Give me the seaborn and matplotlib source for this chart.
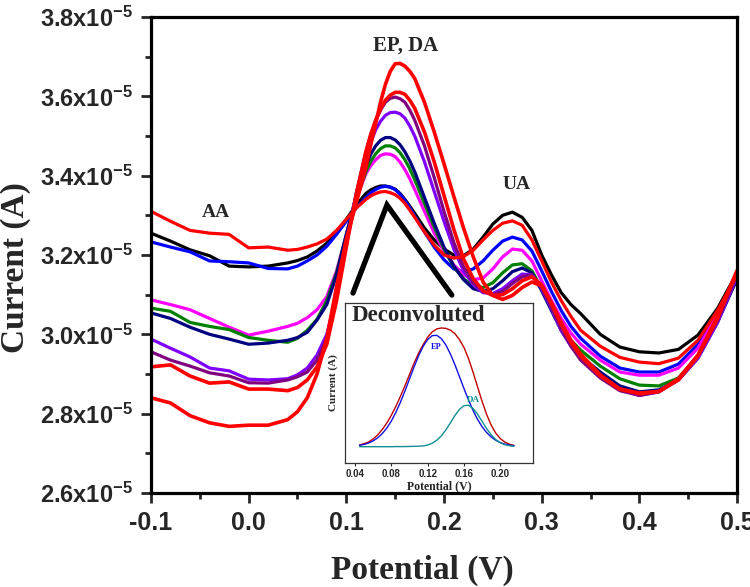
import numpy as np
import pandas as pd
import seaborn as sns
import matplotlib.pyplot as plt
from matplotlib.ticker import MultipleLocator, FuncFormatter

sns.set_style("ticks")
plt.rcParams['font.family'] = ['Liberation Sans', 'DejaVu Sans']
plt.rcParams['mathtext.fontset'] = 'custom'
plt.rcParams['mathtext.rm'] = 'Liberation Sans:bold'
plt.rcParams['mathtext.bf'] = 'Liberation Sans:bold'
plt.rcParams['mathtext.it'] = 'Liberation Sans:bold'
plt.rcParams['mathtext.default'] = 'bf'

# potential (V)
potential = [-0.10, -0.08, -0.06, -0.04, -0.02, 0.00, 0.02, 0.04, 0.05, 0.06, 0.07, 0.08, 0.09,
             0.10, 0.11, 0.12, 0.125, 0.13, 0.135, 0.14, 0.145, 0.15, 0.155, 0.16, 0.165,
             0.17, 0.18, 0.19, 0.20, 0.21, 0.22,
             0.23, 0.24, 0.25, 0.26, 0.27, 0.28, 0.29, 0.30, 0.31, 0.32, 0.33, 0.34, 0.36,
             0.38, 0.40, 0.42, 0.44, 0.46, 0.48, 0.50]

# currents in units of 1e-5 A
cur_black = [3.255, 3.235, 3.213, 3.198, 3.172, 3.170, 3.172, 3.180, 3.186, 3.195, 3.210, 3.230,
             3.258, 3.290, 3.325, 3.355, 3.364, 3.370, 3.374, 3.374, 3.371, 3.366, 3.355, 3.340, 3.323,
             3.305, 3.268, 3.238, 3.215, 3.200, 3.198,
             3.215, 3.245, 3.278, 3.300, 3.308, 3.295, 3.262, 3.200, 3.150, 3.105,
             3.075, 3.052, 3.000, 2.968, 2.956, 2.953, 2.962, 2.998, 3.065, 3.155]
cur_red1 = [3.310, 3.285, 3.262, 3.255, 3.252, 3.218, 3.220, 3.212, 3.214, 3.220, 3.228, 3.240,
            3.262, 3.290, 3.318, 3.340, 3.349, 3.355, 3.359, 3.360, 3.357, 3.352, 3.343, 3.330, 3.313,
            3.295, 3.258, 3.225, 3.200, 3.192, 3.196,
            3.212, 3.238, 3.262, 3.280, 3.286, 3.275, 3.238, 3.185, 3.132, 3.085,
            3.045, 3.010, 2.970, 2.942, 2.930, 2.926, 2.940, 2.985, 3.060, 3.150]
cur_blue = [3.233, 3.220, 3.208, 3.185, 3.183, 3.180, 3.166, 3.165, 3.172, 3.185, 3.200, 3.222,
            3.252, 3.285, 3.318, 3.345, 3.357, 3.365, 3.371, 3.373, 3.371, 3.365, 3.353, 3.338, 3.319,
            3.298, 3.258, 3.220, 3.188, 3.165, 3.158,
            3.165, 3.185, 3.212, 3.235, 3.245, 3.238, 3.210, 3.160, 3.108, 3.060,
            3.020, 2.990, 2.945, 2.915, 2.905, 2.905, 2.925, 2.975, 3.055, 3.150]
cur_magenta = [3.087, 3.075, 3.062, 3.040, 3.018, 2.998, 3.008, 3.020, 3.028, 3.042, 3.062, 3.095,
               3.160, 3.250, 3.340, 3.405, 3.425, 3.440, 3.451, 3.455, 3.454, 3.448, 3.434, 3.415, 3.392,
               3.365, 3.310, 3.255, 3.210, 3.175, 3.150,
               3.138, 3.142, 3.165, 3.195, 3.215, 3.212, 3.185, 3.135, 3.085, 3.040,
               3.003, 2.975, 2.935, 2.905, 2.897, 2.897, 2.915, 2.965, 3.050, 3.150]
cur_green = [3.066, 3.058, 3.030, 3.020, 3.012, 2.992, 2.985, 2.980, 2.990, 3.010, 3.038, 3.085,
             3.155, 3.250, 3.340, 3.410, 3.436, 3.455, 3.468, 3.475, 3.475, 3.470, 3.458, 3.440, 3.417,
             3.390, 3.330, 3.270, 3.215, 3.170, 3.140,
             3.122, 3.118, 3.130, 3.155, 3.175, 3.178, 3.160, 3.115, 3.065, 3.020,
             2.985, 2.960, 2.920, 2.888, 2.872, 2.870, 2.890, 2.945, 3.035, 3.140]
cur_navy = [3.054, 3.040, 3.018, 3.000, 2.988, 2.975, 2.978, 2.985, 2.992, 3.005, 3.036, 3.075,
            3.150, 3.252, 3.348, 3.425, 3.454, 3.475, 3.489, 3.496, 3.496, 3.490, 3.478, 3.460, 3.437,
            3.410, 3.345, 3.280, 3.220, 3.172, 3.138,
            3.115, 3.108, 3.115, 3.135, 3.158, 3.167, 3.155, 3.110, 3.060, 3.010,
            2.972, 2.945, 2.905, 2.870, 2.855, 2.860, 2.885, 2.940, 3.030, 3.140]
cur_violet = [2.988, 2.965, 2.943, 2.915, 2.908, 2.887, 2.885, 2.888, 2.898, 2.915, 2.948, 3.000,
              3.100, 3.230, 3.350, 3.445, 3.484, 3.515, 3.537, 3.552, 3.559, 3.560, 3.556, 3.545, 3.525,
              3.500, 3.435, 3.360, 3.285, 3.215, 3.160,
              3.125, 3.105, 3.103, 3.115, 3.135, 3.152, 3.150, 3.115, 3.065, 3.010,
              2.970, 2.940, 2.895, 2.862, 2.846, 2.855, 2.885, 2.940, 3.030, 3.145]
cur_purple = [2.956, 2.935, 2.920, 2.903, 2.895, 2.878, 2.877, 2.885, 2.893, 2.905, 2.935, 2.990,
              3.095, 3.228, 3.355, 3.460, 3.503, 3.538, 3.565, 3.585, 3.595, 3.598, 3.594, 3.585, 3.565,
              3.540, 3.475, 3.395, 3.310, 3.232, 3.170,
              3.130, 3.108, 3.100, 3.108, 3.128, 3.145, 3.150, 3.118, 3.068, 3.015,
              2.970, 2.935, 2.890, 2.858, 2.846, 2.855, 2.888, 2.945, 3.035, 3.150]
cur_red3 = [2.918, 2.923, 2.895, 2.877, 2.880, 2.862, 2.862, 2.858, 2.866, 2.885, 2.918, 2.975,
            3.085, 3.220, 3.350, 3.460, 3.504, 3.540, 3.569, 3.590, 3.603, 3.610, 3.610, 3.605, 3.590,
            3.570, 3.510, 3.435, 3.350, 3.265, 3.190,
            3.140, 3.110, 3.098, 3.100, 3.115, 3.135, 3.145, 3.125, 3.078, 3.025,
            2.980, 2.945, 2.895, 2.862, 2.852, 2.856, 2.885, 2.945, 3.040, 3.160]
cur_red4 = [2.840, 2.827, 2.795, 2.777, 2.768, 2.771, 2.771, 2.785, 2.805, 2.840, 2.900, 2.990,
            3.120, 3.240, 3.330, 3.420, 3.478, 3.530, 3.585, 3.630, 3.663, 3.682, 3.683, 3.676, 3.663,
            3.645, 3.585, 3.510, 3.430, 3.348, 3.268,
            3.195, 3.132, 3.098, 3.088, 3.098, 3.118, 3.132, 3.122, 3.080, 3.030,
            2.985, 2.950, 2.898, 2.862, 2.850, 2.856, 2.888, 2.948, 3.045, 3.160]

# inset: deconvoluted peaks (arbitrary units)
ins_potential = [0.045, 0.050, 0.055, 0.060, 0.065, 0.070, 0.075, 0.080, 0.085, 0.090, 0.095,
                 0.100, 0.105, 0.110, 0.115, 0.120, 0.125, 0.130, 0.135, 0.140, 0.145, 0.150,
                 0.155, 0.160, 0.165, 0.170, 0.175, 0.180, 0.185, 0.190, 0.195, 0.200, 0.205,
                 0.210, 0.215]
ins_total = [0.015, 0.025, 0.040, 0.065, 0.100, 0.145, 0.200, 0.265, 0.340, 0.425, 0.515,
             0.610, 0.705, 0.790, 0.862, 0.925, 0.970, 0.995, 1.003, 1.000, 0.985, 0.955,
             0.905, 0.838, 0.744, 0.629, 0.504, 0.381, 0.271, 0.181, 0.114, 0.068, 0.039,
             0.021, 0.011]
ins_ep = [0.012, 0.019, 0.031, 0.049, 0.075, 0.110, 0.157, 0.217, 0.290, 0.375, 0.471,
          0.572, 0.673, 0.767, 0.847, 0.905, 0.938, 0.941, 0.914, 0.860, 0.784, 0.693,
          0.592, 0.491, 0.394, 0.306, 0.230, 0.168, 0.119, 0.081, 0.054, 0.035, 0.022,
          0.013, 0.008]
ins_da = [0.000, 0.000, 0.000, 0.000, 0.000, 0.000, 0.000, 0.000, 0.001, 0.001, 0.001,
          0.002, 0.003, 0.004, 0.007, 0.014, 0.029, 0.054, 0.091, 0.141, 0.201, 0.263,
          0.315, 0.347, 0.350, 0.323, 0.274, 0.213, 0.152, 0.100, 0.060, 0.033, 0.017,
          0.008, 0.003]

series = [
    ("black", cur_black, "black", 2.3),
    ("blue", cur_blue, "#0000ff", 2.3),
    ("magenta", cur_magenta, "#ff00ff", 2.3),
    ("green", cur_green, "#008000", 2.3),
    ("navy", cur_navy, "#000080", 2.3),
    ("violet", cur_violet, "#8000ff", 2.3),
    ("purple", cur_purple, "#800080", 2.3),
    ("red1", cur_red1, "#ff0000", 2.3),
    ("red3", cur_red3, "#ff0000", 2.6),
    ("red4", cur_red4, "#ff0000", 2.6),
]

fig = plt.figure(figsize=(7.5, 5.87), dpi=100)
ax = fig.add_axes([0.2013, 0.1601, 0.7814, 0.811])

for name, vals, col, lw in series:
    df = pd.DataFrame({"potential": potential, "current": np.array(vals) * 1e-5})
    sns.lineplot(data=df, x="potential", y="current", color=col, lw=lw,
                 sort=False, estimator=None, ax=ax)

# black pointer to the deconvoluted peak
ax.plot([0.1068, 0.1416, 0.208], [3.104e-5, 3.326e-5, 3.099e-5],
        color="black", lw=3.8, solid_capstyle="round", solid_joinstyle="miter")

ax.set_xlim(-0.1, 0.5)
ax.set_ylim(2.6e-5, 3.8e-5)
ax.xaxis.set_major_locator(MultipleLocator(0.1))
ax.xaxis.set_minor_locator(MultipleLocator(0.05))
ax.yaxis.set_major_locator(MultipleLocator(0.2e-5))
ax.yaxis.set_minor_locator(MultipleLocator(0.1e-5))
ax.xaxis.set_major_formatter(FuncFormatter(lambda v, p: f"{v:.1f}"))
ax.yaxis.set_major_formatter(FuncFormatter(lambda v, p: f"${v / 1e-5:.1f}x10^{{-5}}$"))
ax.tick_params(axis="x", which="major", labelsize=18, length=7, width=2, pad=6)
ax.tick_params(axis="y", which="major", labelsize=17, length=7, width=2, pad=6)
ax.tick_params(which="minor", length=4, width=2)
for lab in ax.get_xticklabels():
    lab.set_fontweight("bold")
for s in ax.spines.values():
    s.set_linewidth(2.3)
    s.set_color("black")

serif = ["Liberation Serif", "DejaVu Serif"]
ax.set_xlabel("Potential (V)", fontfamily=serif, fontweight="bold", fontsize=24)
ax.set_ylabel("Current (A)", fontfamily=serif, fontweight="bold", fontsize=24)
ax.xaxis.set_label_coords(0.463, -0.13)
ax.yaxis.set_label_coords(-0.205, 0.474)

ax.text(-0.0335, 3.308e-5, "AA", fontfamily=serif, fontweight="bold", fontsize=14,
        ha="center", va="center")
ax.text(0.161, 3.729e-5, "EP, DA", fontfamily=serif, fontweight="bold", fontsize=15,
        ha="center", va="center")
ax.text(0.2746, 3.3765e-5, "UA", fontfamily=serif, fontweight="bold", fontsize=14,
        ha="center", va="center")

# inset
ins = fig.add_axes([0.46, 0.2112, 0.2507, 0.2726])
ins_df = pd.DataFrame({"potential": ins_potential, "total": ins_total,
                       "EP": ins_ep, "DA": ins_da})
sns.lineplot(data=ins_df, x="potential", y="total", color="#c00000", lw=1.0, ax=ins)
sns.lineplot(data=ins_df, x="potential", y="EP", color="#1010e0", lw=1.0, ax=ins)
sns.lineplot(data=ins_df, x="potential", y="DA", color="#109090", lw=1.0, ax=ins)
ins.set_xlim(0.029, 0.236)
ins.set_ylim(-0.138, 1.214)
ins.set_xticks([0.04, 0.08, 0.12, 0.16, 0.20])
ins.xaxis.set_major_formatter(FuncFormatter(lambda v, p: f"{v:.2f}"))
ins.set_yticks([])
ins.tick_params(axis="x", labelsize=7, length=2, width=0.8, pad=2)
for lab in ins.get_xticklabels():
    lab.set_fontweight("bold")
for s in ins.spines.values():
    s.set_linewidth(0.9)
    s.set_color("#333333")
ins.set_xlabel("Potential (V)", fontfamily=serif, fontweight="bold", fontsize=8.5, labelpad=1)
ins.set_ylabel("Current (A)", fontfamily=serif, fontweight="bold", fontsize=8, labelpad=5)
ins.text(0.037, 0.99, "Deconvoluted", transform=ins.transAxes, fontfamily=serif,
         fontweight="bold", fontsize=16.5, ha="left", va="top")
ins.text(0.1294, 0.842, "EP", color="#1010e0", fontfamily=serif, fontweight="bold",
         fontsize=6, ha="center", va="center")
ins.text(0.170, 0.394, "DA", color="#109090", fontfamily=serif, fontweight="bold",
         fontsize=6.5, ha="center", va="center")

fig.savefig("out.png", dpi=100)
